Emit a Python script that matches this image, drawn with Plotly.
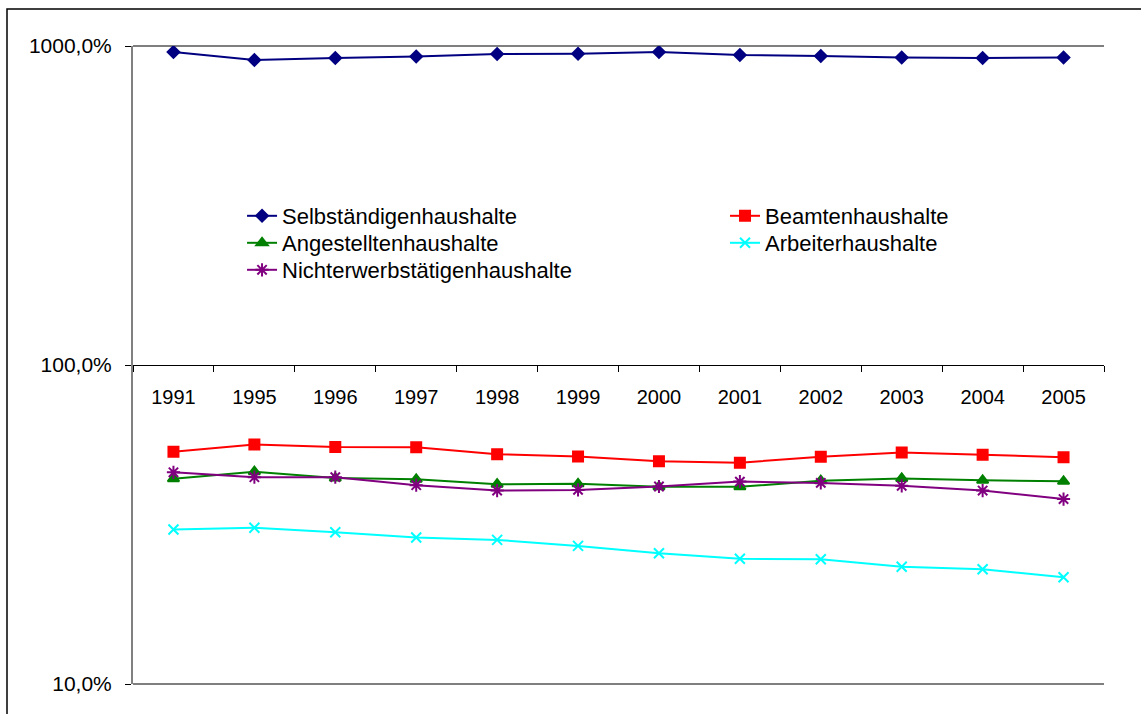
import plotly.graph_objects as go

years = ["1991", "1995", "1996", "1997", "1998", "1999", "2000", "2001", "2002", "2003", "2004", "2005"]

selbstaendige = [957, 904, 917, 927, 944, 946, 957, 937, 930, 920, 917, 920]
beamte = [53.5, 56.3, 55.3, 55.2, 52.5, 51.7, 49.9, 49.4, 51.6, 53.2, 52.3, 51.4]
angestellte = [44.0, 46.3, 44.2, 43.8, 42.3, 42.4, 41.5, 41.5, 43.4, 44.1, 43.5, 43.2]
arbeiter = [30.5, 30.9, 29.9, 28.8, 28.3, 27.1, 25.7, 24.7, 24.6, 23.3, 22.9, 21.6]
nichterwerbstaetige = [46.1, 44.5, 44.5, 42.0, 40.4, 40.6, 41.6, 43.1, 42.7, 41.8, 40.4, 38.0]

y_tickvals = [10, 100, 1000]
y_ticktext = ["10,0%", "100,0%", "1000,0%"]

FONT = "Liberation Sans, Arial, sans-serif"

fig = go.Figure()

# (name, values, color, symbol, size, legend id, legend x (paper), legend row)
series = [
    ("Selbständigenhaushalte", selbstaendige, "#000080", "diamond", 9, "legend", 0.1123, 0),
    ("Beamtenhaushalte", beamte, "#FF0000", "square", 10, "legend2", 0.6097, 0),
    ("Angestelltenhaushalte", angestellte, "#008000", "triangle-up", 10, "legend3", 0.1123, 1),
    ("Arbeiterhaushalte", arbeiter, "#00FFFF", "x-thin-open", 10, "legend4", 0.6097, 1),
    ("Nichterwerbstätigenhaushalte", nichterwerbstaetige, "#800080", "asterisk-open", 11, "legend5", 0.1123, 2),
]

row_y = [216, 243, 270]  # screen pixel centers of legend rows

legends = {}
for name, vals, color, sym, size, leg, lx, row in series:
    fig.add_trace(go.Scatter(
        x=years, y=vals, name=name, mode="lines+markers",
        line=dict(color=color, width=2),
        marker=dict(symbol=sym, size=size, color=color, line=dict(color=color, width=2)),
        legend=leg,
    ))
    legends[leg] = dict(
        x=lx, y=1 - (row_y[row] - 46) / 638, xanchor="left", yanchor="middle",
        bgcolor="rgba(0,0,0,0)", font=dict(size=22, family=FONT),
        tracegroupgap=0, itemwidth=30,
    )

fig.update_layout(
    width=1141, height=714,
    margin=dict(l=133, r=37, t=46, b=30),
    paper_bgcolor="white", plot_bgcolor="white",
    font=dict(family=FONT, size=20, color="black"),
    xaxis=dict(
        type="category", anchor="free", position=0.5, range=[-0.5, 11.5],
        showline=True, linecolor="black", linewidth=1,
        ticks="outside", ticklen=6, tickcolor="black", tickson="boundaries",
        showgrid=False, ticklabelstandoff=14,
        tickfont=dict(size=20, family=FONT),
    ),
    yaxis=dict(
        type="log", range=[1, 3],
        tickvals=y_tickvals, ticktext=y_ticktext,
        showline=True, linecolor="#808080", linewidth=2,
        ticks="outside", ticklen=6, tickcolor="black",
        showgrid=True, gridcolor="black", gridwidth=1,
        zeroline=False, ticklabelstandoff=9,
        tickfont=dict(size=21, family=FONT),
    ),
    showlegend=True,
    **legends,
)

# horizontal frame lines at the top (1000%) and bottom (10%) of the plot area
for yp in (0, 1):
    fig.add_shape(type="line", xref="paper", yref="paper", x0=0, x1=1, y0=yp, y1=yp,
                  line=dict(color="black", width=1.2), layer="below")

# outer chart border
fig.add_shape(type="rect", xref="paper", yref="paper",
              x0=(7 - 133) / 971, x1=(1150 - 133) / 971,
              y0=-(720 - 684) / 638, y1=1 + (46 - 9) / 638,
              line=dict(color="black", width=1.5), fillcolor="rgba(0,0,0,0)", layer="below")

fig.write_html("out.html", config={"displayModeBar": False},
               post_script="document.body.style.margin='0';document.body.style.padding='0';")
